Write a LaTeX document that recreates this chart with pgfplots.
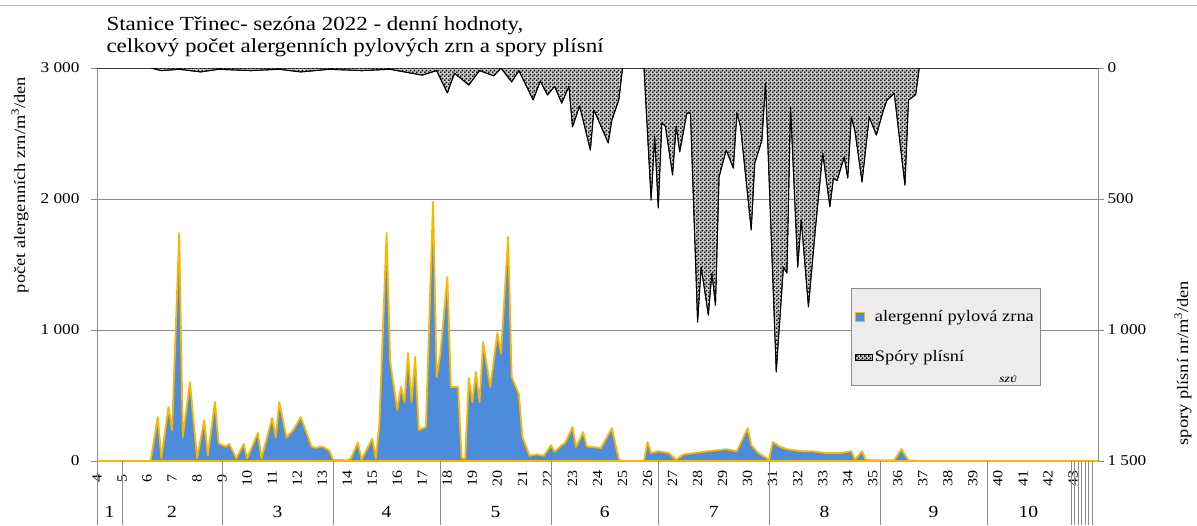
\documentclass[border=0pt]{standalone}
\usepackage{fontspec}
\setmainfont{Liberation Serif}[FakeStretch=1.15]
\usepackage{pgfplots}
\usepackage{pgfplotstable}
\pgfplotsset{compat=1.18}
\usetikzlibrary{patterns}

\definecolor{pollenblue}{RGB}{77,139,219}
\definecolor{pollenorange}{RGB}{250,183,0}
\definecolor{axisgray}{RGB}{140,140,140}
\definecolor{legendgray}{RGB}{236,236,236}

% dotted fill of the spores area
\pgfdeclarepatternformonly{sporedots}{\pgfqpoint{0pt}{0pt}}{\pgfqpoint{4pt}{4pt}}{\pgfqpoint{4pt}{4pt}}{%
  \pgfpathcircle{\pgfqpoint{1pt}{1pt}}{1.2pt}%
  \pgfpathcircle{\pgfqpoint{3pt}{3pt}}{1.2pt}%
  \pgfusepath{fill}}

% day 0 = 25 Jan 2022, daily values
\pgfplotstableread{
day pollen
0 0
15 0
17 336
18 20
20 412
21 236
23 1740
24 183
26 603
28 20
30 313
31 40
33 450
34 137
36 110
37 130
39 20
41 130
42 20
45 214
46 20
49 328
50 180
51 450
53 180
54 210
55 240
57 336
60 110
61 100
63 110
65 80
66 10
70 5
71 20
73 140
74 10
77 170
78 20
79 290
81 1740
82 760
84 390
85 565
86 450
87 824
88 450
89 795
90 236
92 260
94 1977
95 641
96 809
98 1405
99 565
101 565
102 20
103 20
104 633
105 450
106 680
107 450
108 908
110 565
112 977
113 820
115 1710
116 640
118 510
119 183
121 40
123 50
125 40
127 120
128 70
130 120
131 140
133 260
134 107
136 220
137 110
141 100
144 250
146 10
147 0
153 0
154 145
155 60
157 75
160 60
162 10
164 50
167 60
171 75
176 90
179 75
182 250
183 120
185 60
188 10
189 145
191 110
193 90
197 75
200 75
204 60
208 60
211 75
212 10
214 75
215 10
217 5
223 5
225 90
227 5
230 0
280 0
}\pollen

\pgfplotstableread{
day spores
0 0
15 0
18 10
23 5
29 15
34 5
43 10
51 5
57 15
65 5
74 10
82 5
88 20
91 27
95 10
98 95
100 20
104 65
107 10
111 30
113 0
116 53
118 10
122 122
124 50
126 103
128 70
130 134
132 70
133 225
135 145
138 313
139 160
143 286
144 200
146 120
147 0
153 0
155 504
156 263
157 534
158 210
159 223
161 408
162 223
163 320
165 172
166 172
168 970
169 760
171 943
172 783
173 905
174 416
176 313
178 382
179 172
180 223
183 618
184 363
186 275
187 57
190 1160
192 760
193 783
194 149
196 760
197 580
199 912
201 607
203 325
205 530
206 420
207 430
209 340
210 420
211 187
212 240
214 435
216 187
218 256
220 160
221 122
223 97
226 447
227 122
229 102
230 0
280 0
}\spores

\begin{document}
\begin{tikzpicture}
\useasboundingbox (0pt,0pt) rectangle (1197pt,525pt);
\draw[gray!50, line width=1pt] (0pt,519pt) -- (1197pt,519pt);
\node[anchor=base west, font=\fontsize{20}{20}\selectfont] at (103pt,494pt) {Stanice Třinec- sezóna 2022 - denní hodnoty,};
\node[anchor=base west, font=\fontsize{20}{20}\selectfont] at (103pt,472pt) {celkový počet alergenních pylových zrn a spory plísní};

\begin{axis}[
  at={(97pt,64pt)}, anchor=south west,
  scale only axis, width=1001pt, height=393pt,
  xmin=0, xmax=280, ymin=0, ymax=3000,
  axis line style={axisgray},
  ytick={0,1000,2000,3000}, ytick pos=left,
  ymajorgrids, grid style={axisgray, line width=0.8pt},
  tick align=outside, major tick length=6pt,
  tick style={axisgray},
  /pgf/number format/assume math mode=true,
  /pgf/number format/1000 sep={\ },
  yticklabel style={font=\fontsize{15}{15}\selectfont, xshift=-8pt},
  xtick={0,7,...,273},
  xticklabels={4,5,6,7,8,9,10,11,12,13,14,15,16,17,18,19,20,21,22,23,24,25,26,27,28,29,30,31,32,33,34,35,36,37,38,39,40,41,42,43},
  xtick style={draw=none},
  xticklabel style={rotate=90, anchor=center, font=\fontsize{14}{14}\selectfont},
  xticklabel shift=11pt,
  clip mode=individual,
  legend cell align=left,
  legend image code/.code={\draw[#1, line width=0.8pt] (0pt,-4.5pt) rectangle (9pt,4.5pt);},
  legend style={at={(rel axis cs:0.7532,0.4402)}, anchor=north west,
    fill=legendgray, draw=axisgray, font=\fontsize{16}{16}\selectfont,
    row sep=24pt, inner xsep=4pt, inner ysep=20pt},
]
\addplot[draw=pollenorange, line width=1.8pt, line join=round, fill=pollenblue]
  table[x=day, y=pollen]{\pollen} \closedcycle;
\addlegendentry{alergenní pylová zrna}
\addlegendimage{area legend, draw=black, fill=gray!40, postaction={pattern=sporedots}}
\addlegendentry{Spóry plísní}

% month table under the weeks
\pgfplotsinvokeforeach{0,7,35,66,96,127,157,188,219,249}{
  \draw[axisgray] (axis cs:#1,0) -- ++(0pt,-64pt);
}
\pgfplotsinvokeforeach{272.4,273.4,274.4,275.4,276.4,277.4,278.4}{
  \draw[axisgray, line width=0.6pt] (axis cs:#1,0) -- ++(0pt,-64pt);
}
\node[font=\fontsize{17}{17}\selectfont, yshift=-51pt] at (axis cs:3.5,0) {1};
\node[font=\fontsize{17}{17}\selectfont, yshift=-51pt] at (axis cs:21,0) {2};
\node[font=\fontsize{17}{17}\selectfont, yshift=-51pt] at (axis cs:50.5,0) {3};
\node[font=\fontsize{17}{17}\selectfont, yshift=-51pt] at (axis cs:81,0) {4};
\node[font=\fontsize{17}{17}\selectfont, yshift=-51pt] at (axis cs:111.5,0) {5};
\node[font=\fontsize{17}{17}\selectfont, yshift=-51pt] at (axis cs:142,0) {6};
\node[font=\fontsize{17}{17}\selectfont, yshift=-51pt] at (axis cs:172.5,0) {7};
\node[font=\fontsize{17}{17}\selectfont, yshift=-51pt] at (axis cs:203.5,0) {8};
\node[font=\fontsize{17}{17}\selectfont, yshift=-51pt] at (axis cs:234,0) {9};
\node[font=\fontsize{17}{17}\selectfont, yshift=-51pt] at (axis cs:260.5,0) {10};
\end{axis}

\begin{axis}[
  at={(97pt,64pt)}, anchor=south west,
  scale only axis, width=1001pt, height=393pt,
  xmin=0, xmax=280, ymin=0, ymax=1500,
  y dir=reverse,
  axis x line=none, axis y line*=right,
  axis line style={axisgray},
  ytick={0,500,1000,1500},
  tick align=outside, major tick length=6pt,
  tick style={axisgray},
  /pgf/number format/assume math mode=true,
  /pgf/number format/1000 sep={\ },
  yticklabel style={font=\fontsize{15}{15}\selectfont},
]
\addplot[draw=black, line width=0.9pt, line join=round, fill=gray!40, postaction={pattern=sporedots}]
  table[x=day, y=spores]{\spores} \closedcycle;
\end{axis}

\node[rotate=90, font=\fontsize{16}{16}\selectfont] at (20pt,340pt) {počet alergenních zrn/m\textsuperscript{3}/den};
\node[rotate=90, font=\fontsize{16}{16}\selectfont] at (1183pt,162pt) {spory plísní nr/m\textsuperscript{3}/den};
\node[font=\fontsize{8}{8}\selectfont\bfseries\itshape] at (1008pt,146pt) {SZÚ};
\end{tikzpicture}
\end{document}
